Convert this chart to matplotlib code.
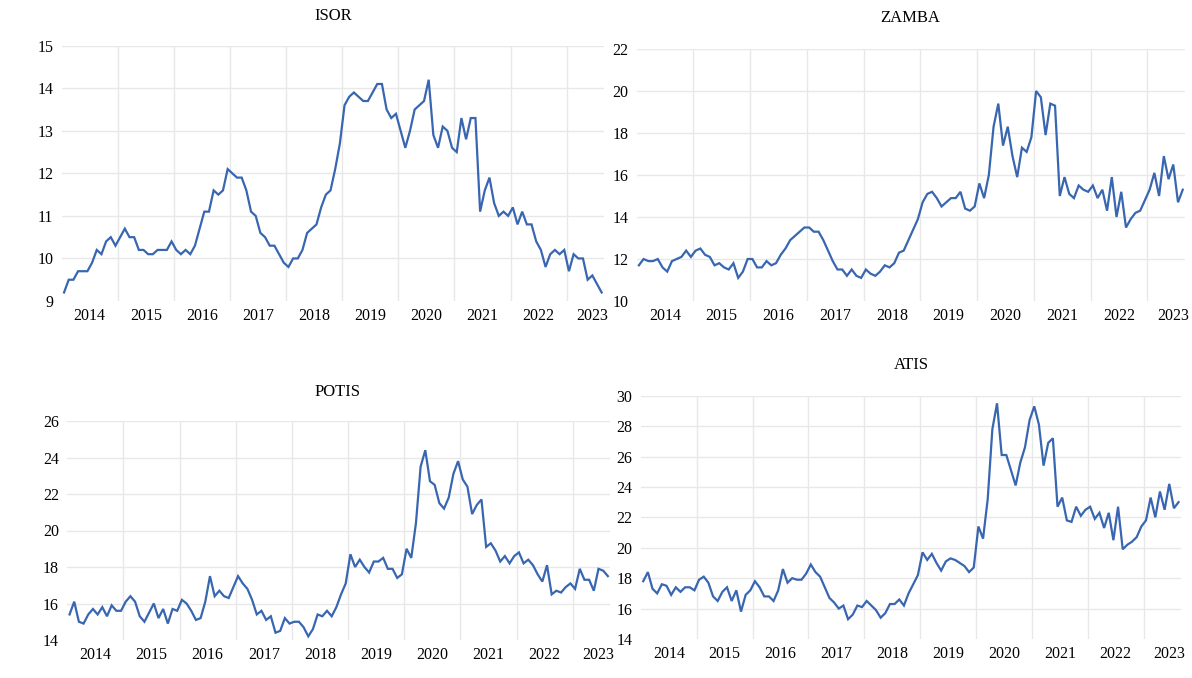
import matplotlib
matplotlib.use("Agg")
import matplotlib.pyplot as plt
import numpy as np

plt.rcParams['font.family'] = ['Liberation Serif', 'DejaVu Serif']

years = ["2014", "2015", "2016", "2017", "2018", "2019", "2020", "2021", "2022", "2023"]

isor = [9.2, 9.5, 9.5, 9.7, 9.7, 9.7, 9.9, 10.2, 10.1, 10.4, 10.5, 10.3,
        10.5, 10.7, 10.5, 10.5, 10.2, 10.2, 10.1, 10.1, 10.2, 10.2, 10.2, 10.4,
        10.2, 10.1, 10.2, 10.1, 10.3, 10.7, 11.1, 11.1, 11.6, 11.5, 11.6, 12.1,
        12.0, 11.9, 11.9, 11.6, 11.1, 11.0, 10.6, 10.5, 10.3, 10.3, 10.1, 9.9,
        9.8, 10.0, 10.0, 10.2, 10.6, 10.7, 10.8, 11.2, 11.5, 11.6, 12.1, 12.7,
        13.6, 13.8, 13.9, 13.8, 13.7, 13.7, 13.9, 14.1, 14.1, 13.5, 13.3, 13.4,
        13.0, 12.6, 13.0, 13.5, 13.6, 13.7, 14.2, 12.9, 12.6, 13.1, 13.0, 12.6,
        12.5, 13.3, 12.8, 13.3, 13.3, 11.1, 11.6, 11.9, 11.3, 11.0, 11.1, 11.0,
        11.2, 10.8, 11.1, 10.8, 10.8, 10.4, 10.2, 9.8, 10.1, 10.2, 10.1, 10.2,
        9.7, 10.1, 10.0, 10.0, 9.5, 9.6, 9.4, 9.2]

zamba = [11.7, 12.0, 11.9, 11.9, 12.0, 11.6, 11.4, 11.9, 12.0, 12.1, 12.4, 12.1,
         12.4, 12.5, 12.2, 12.1, 11.7, 11.8, 11.6, 11.5, 11.8, 11.1, 11.4, 12.0,
         12.0, 11.6, 11.6, 11.9, 11.7, 11.8, 12.2, 12.5, 12.9, 13.1, 13.3, 13.5,
         13.5, 13.3, 13.3, 12.9, 12.4, 11.9, 11.5, 11.5, 11.2, 11.5, 11.2, 11.1,
         11.5, 11.3, 11.2, 11.4, 11.7, 11.6, 11.8, 12.3, 12.4, 12.9, 13.4, 13.9,
         14.7, 15.1, 15.2, 14.9, 14.5, 14.7, 14.9, 14.9, 15.2, 14.4, 14.3, 14.5,
         15.6, 14.9, 16.0, 18.3, 19.4, 17.4, 18.3, 16.9, 15.9, 17.3, 17.1, 17.8,
         20.0, 19.7, 17.9, 19.4, 19.3, 15.0, 15.9, 15.1, 14.9, 15.5, 15.3, 15.2,
         15.5, 14.9, 15.3, 14.3, 15.9, 14.0, 15.2, 13.5, 13.9, 14.2, 14.3, 14.8,
         15.3, 16.1, 15.0, 16.9, 15.8, 16.5, 14.7, 15.3]

potis = [15.4, 16.1, 15.0, 14.9, 15.4, 15.7, 15.4, 15.8, 15.3, 15.9, 15.6, 15.6,
         16.1, 16.4, 16.1, 15.3, 15.0, 15.5, 16.0, 15.2, 15.7, 14.9, 15.7, 15.6,
         16.2, 16.0, 15.6, 15.1, 15.2, 16.1, 17.5, 16.4, 16.7, 16.4, 16.3, 16.9,
         17.5, 17.1, 16.8, 16.2, 15.4, 15.6, 15.1, 15.3, 14.4, 14.5, 15.2, 14.9,
         15.0, 15.0, 14.7, 14.2, 14.6, 15.4, 15.3, 15.6, 15.3, 15.8, 16.5, 17.1,
         18.7, 18.0, 18.4, 18.0, 17.7, 18.3, 18.3, 18.5, 17.9, 17.9, 17.4, 17.6,
         19.0, 18.5, 20.4, 23.5, 24.4, 22.7, 22.5, 21.5, 21.2, 21.8, 23.1, 23.8,
         22.8, 22.4, 20.9, 21.4, 21.7, 19.1, 19.3, 18.9, 18.3, 18.6, 18.2, 18.6,
         18.8, 18.2, 18.4, 18.1, 17.6, 17.2, 18.1, 16.5, 16.7, 16.6, 16.9, 17.1,
         16.8, 17.9, 17.3, 17.3, 16.7, 17.9, 17.8, 17.5]

atis = [17.8, 18.4, 17.3, 17.0, 17.6, 17.5, 16.9, 17.4, 17.1, 17.4, 17.4, 17.2,
        17.9, 18.1, 17.7, 16.8, 16.5, 17.1, 17.4, 16.5, 17.2, 15.8, 16.9, 17.2,
        17.8, 17.4, 16.8, 16.8, 16.5, 17.2, 18.6, 17.7, 18.0, 17.9, 17.9, 18.3,
        18.9, 18.4, 18.1, 17.4, 16.7, 16.4, 16.0, 16.2, 15.3, 15.6, 16.2, 16.1,
        16.5, 16.2, 15.9, 15.4, 15.7, 16.3, 16.3, 16.6, 16.2, 17.0, 17.6, 18.2,
        19.7, 19.2, 19.6, 19.0, 18.5, 19.1, 19.3, 19.2, 19.0, 18.8, 18.4, 18.7,
        21.4, 20.6, 23.2, 27.8, 29.5, 26.1, 26.1, 25.1, 24.1, 25.6, 26.6, 28.4,
        29.3, 28.1, 25.4, 26.9, 27.2, 22.7, 23.3, 21.8, 21.7, 22.7, 22.1, 22.5,
        22.7, 21.9, 22.3, 21.3, 22.3, 20.5, 22.7, 19.9, 20.2, 20.4, 20.7, 21.4,
        21.8, 23.3, 22.0, 23.7, 22.5, 24.2, 22.6, 23.0]

W, H = 1192, 678
fig = plt.figure(figsize=(W / 100, H / 100), dpi=100)

def make_ax(left, right, top, bottom):
    return fig.add_axes([left / W, 1 - bottom / H, (right - left) / W, (bottom - top) / H])

panels = [
    ("ISOR", isor, (61.7, 604.0, 45.7, 301.0), (9, 15), 1, (333, 15.5)),
    ("ZAMBA", zamba, (636.5, 1185.1, 49.0, 301.0), (10, 22), 2, (910, 18.5)),
    ("POTIS", potis, (67.2, 610.2, 421.0, 640.0), (14, 26), 2, (338, 392.5)),
    ("ATIS", atis, (640.9, 1180.9, 395.7, 639.0), (14, 30), 2, (911, 365)),
]

color = "#3866b0"
grid_c = "#e8e8e8"

for title, data, box, ylim, ystep, tpos in panels:
    ax = make_ax(*box)
    x = np.arange(len(data))
    ax.plot(x, data, color=color, lw=1.6, solid_joinstyle='miter')
    ax.set_xlim(-0.5, len(data) - 0.5)
    ax.set_ylim(*ylim)
    yt = np.arange(ylim[0], ylim[1] + 0.01, ystep)
    ax.set_yticks(yt)
    ax.set_yticklabels([str(int(v)) for v in yt])
    gpos = [11.5 + 12 * k for k in range(len(years) - 1)]
    ax.set_xticks(gpos)
    ax.set_xticklabels([])
    lpos = [5.5 + 12 * k for k in range(len(years) - 1)] + [112.9]
    ax.set_xticks(lpos, minor=True)
    ax.set_xticklabels(years, minor=True)
    ax.tick_params(axis='x', which='both', length=0, pad=5, labelsize=11.5)
    ax.tick_params(axis='y', length=0, pad=6, labelsize=11.5)
    ax.grid(True, which='major', color=grid_c, lw=1.0)
    ax.set_axisbelow(True)
    ax.yaxis.get_gridlines()[0].set_visible(False)
    for s in ax.spines.values():
        s.set_visible(False)
    fig.text(tpos[0] / W, 1 - tpos[1] / H, title, ha='center', va='center', fontsize=12)

fig.savefig("out.png", dpi=100)
